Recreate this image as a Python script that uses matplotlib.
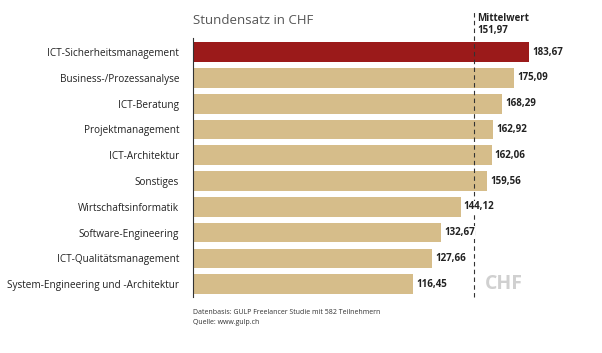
import matplotlib.pyplot as plt

categories = ["ICT-Sicherheitsmanagement", "Business-/Prozessanalyse", "ICT-Beratung",
              "Projektmanagement", "ICT-Architektur", "Sonstiges", "Wirtschaftsinformatik",
              "Software-Engineering", "ICT-Qualitätsmanagement",
              "System-Engineering und -Architektur"]
rates = [183.67, 175.09, 168.29, 162.92, 162.06, 159.56, 144.12, 132.67, 127.66, 116.45]
mean_rate = 151.97

plt.rcParams['font.family'] = ['Open Sans', 'DejaVu Sans']

fig = plt.figure(figsize=(6.02, 3.53), dpi=100)
ax = fig.add_axes([193 / 602, 1 - 297 / 353, 1 - 193 / 602, 259 / 353])

# the scale in the original does not begin at zero
x0 = -10.4
colors = ["#9b1a1a"] + ["#d6bd8a"] * (len(rates) - 1)
y = list(range(len(rates)))
ax.barh(y, [v - x0 for v in rates], left=x0, height=0.76, color=colors, zorder=2)
for yi, v in zip(y, rates):
    ax.text(v + 1.8, yi, f"{v:.2f}".replace(".", ","), va="center", ha="left",
            fontsize=7, fontweight="bold", color="#222222", zorder=4,
            bbox=dict(facecolor="white", edgecolor="none", pad=0.5))

ax.set_xlim(x0 - 0.6, 226)
ax.set_ylim(9.5, -0.55)
ax.set_yticks(y)
ax.set_yticklabels(categories, fontsize=7.2, color="#222222")
ax.tick_params(axis="y", length=0, pad=10)
ax.set_xticks([])
for s in ["top", "right", "bottom"]:
    ax.spines[s].set_visible(False)
ax.spines["left"].set_color("#333333")
ax.spines["left"].set_linewidth(0.8)

ax.axvline(mean_rate, ymin=0, ymax=1 + 26 / 259, color="#333333", lw=0.8,
           ls=(0, (4, 3)), clip_on=False, zorder=3)
ax.text(mean_rate + 1.8, -1.08, "Mittelwert\n" + f"{mean_rate:.2f}".replace(".", ","),
        fontsize=7, fontweight="bold", color="#222222", va="center", ha="left",
        linespacing=1.1)

fig.text(193 / 602, 1 - 21 / 353, "Stundensatz in CHF", fontsize=9.5, color="#555555",
         va="center", ha="left")
ax.text(mean_rate + 6, 9, "CHF", fontsize=14, fontweight="bold", color="#d0d0d0",
        va="center", ha="left")

fig.text(193 / 602, 1 - 313 / 353, "Datenbasis: GULP Freelancer Studie mit 582 Teilnehmern",
         fontsize=5, color="#333333", va="center", ha="left")
fig.text(193 / 602, 1 - 322 / 353, "Quelle: www.gulp.ch",
         fontsize=5, color="#333333", va="center", ha="left")

fig.savefig("out.png", dpi=100)
